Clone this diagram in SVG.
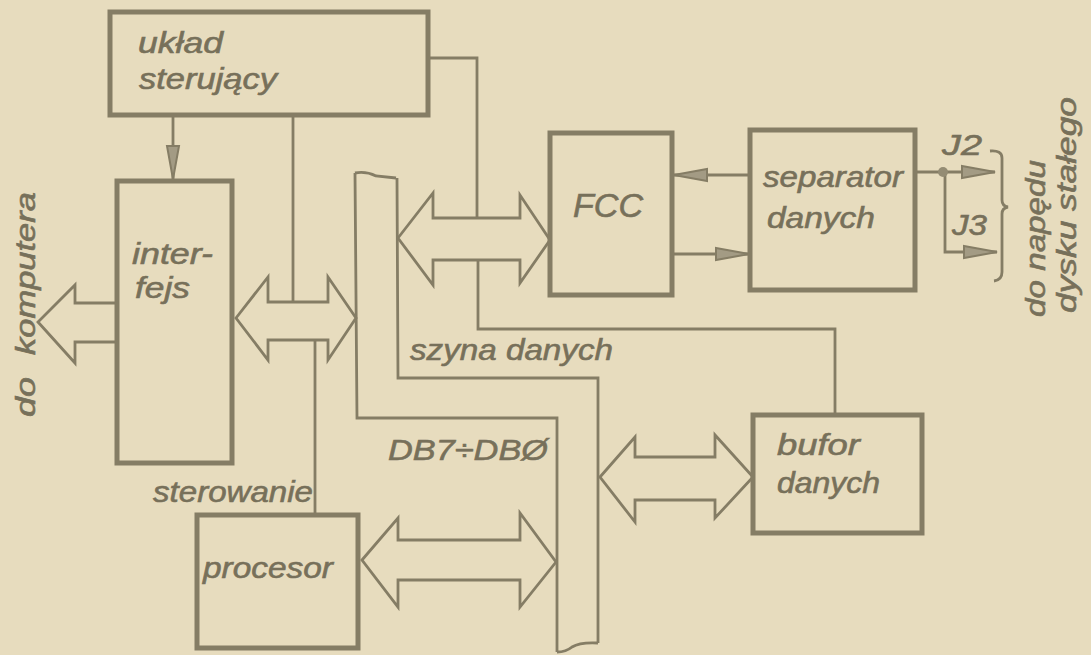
<svg xmlns="http://www.w3.org/2000/svg" width="1091" height="655" viewBox="0 0 1091 655">
<style>
.blk{fill:none;stroke:#857d65;stroke-width:5}
.ln{fill:none;stroke:#857d65;stroke-width:2.8;stroke-linejoin:miter}
.t{font-family:"Liberation Sans",Arial,sans-serif;font-style:italic;fill:#77705a;stroke:#77705a;stroke-width:0.6;font-size:30px}
.r{font-size:27px}
</style>
<defs>
<marker id="ah" markerUnits="userSpaceOnUse" markerWidth="36" markerHeight="16" refX="34" refY="8" orient="auto">
<path d="M1,2 L34,8 L1,14 Z" fill="#a39b84" stroke="#857d65" stroke-width="2"/>
</marker>
</defs>
<rect width="1091" height="655" fill="#e7dcbe"/>

<g id="connectors">
<line class="ln" x1="173" y1="115" x2="173" y2="179" marker-end="url(#ah)"/>
<line class="ln" x1="293" y1="115" x2="293" y2="302"/>
<line class="ln" x1="315" y1="340" x2="315" y2="515"/>
<polyline class="ln" points="428,58 477,58 477,218"/>
<polyline class="ln" points="478,260 478,329 835,329 835,415"/>
<line class="ln" x1="750" y1="175" x2="674" y2="175" marker-end="url(#ah)"/>
<line class="ln" x1="674" y1="254" x2="749" y2="254" marker-end="url(#ah)"/>
<line class="ln" x1="915" y1="172" x2="995" y2="172" marker-end="url(#ah)"/>
<polyline class="ln" points="945,172 945,252 997,252" marker-end="url(#ah)"/>
<circle cx="943" cy="172" r="5" fill="#948c74"/>
<path class="ln" d="M990,151 Q1002,150 1002,158 L1002,200 Q1002,206 1008,207 Q1002,208 1002,214 L1002,272 Q1002,280 994,281"/>
<polyline class="ln" points="117,303 75,303 75,285 38,322 75,363 75,342 117,342"/>
<polygon class="ln" points="236,318 268,277 268,302 328,302 328,277 356,318 328,360 328,340 268,340 268,360"/>
<polygon class="ln" points="398,238 433,193 433,218 520,218 520,195 550,240 520,283 520,260 433,260 433,285"/>
<polygon class="ln" points="362,560 398,518 398,540 520,540 520,513 556,562 520,607 520,580 398,580 398,607"/>
<polygon class="ln" points="600,477 635,437 635,457 715,457 715,435 753,477 715,518 715,500 635,500 635,522"/>
</g>

<g id="bus">
<path class="ln" d="M355,173 Q366,171 376,176 L396,178"/>
<polyline class="ln" points="355,173 357,418 557,418 557,652"/>
<polyline class="ln" points="397,178 398,378 598,378 598,643"/>
<path class="ln" d="M557,652 Q566,652 572,647 Q580,642 598,643"/>
<text class="t" x="410" y="360" textLength="203" lengthAdjust="spacingAndGlyphs">szyna danych</text>
<text class="t" x="388" y="460" textLength="160" lengthAdjust="spacingAndGlyphs">DB7÷DBØ</text>
</g>

<g id="uklad">
<rect class="blk" x="110" y="12" width="318" height="103"/>
<text class="t" x="138" y="53" textLength="85" lengthAdjust="spacingAndGlyphs">układ</text>
<text class="t" x="139" y="89" textLength="138" lengthAdjust="spacingAndGlyphs">sterujący</text>
</g>

<g id="interfejs">
<rect class="blk" x="117" y="181" width="115" height="282"/>
<text class="t" x="132" y="264" textLength="81" lengthAdjust="spacingAndGlyphs">inter-</text>
<text class="t" x="135" y="298" textLength="55" lengthAdjust="spacingAndGlyphs">fejs</text>
</g>

<g id="fcc">
<rect class="blk" x="550" y="133" width="122" height="162"/>
<text class="t" x="573" y="217" style="font-size:33px" textLength="70" lengthAdjust="spacingAndGlyphs">FCC</text>
</g>

<g id="separator">
<rect class="blk" x="750" y="130" width="165" height="160"/>
<text class="t" x="763" y="187" textLength="140" lengthAdjust="spacingAndGlyphs">separator</text>
<text class="t" x="767" y="228" textLength="108" lengthAdjust="spacingAndGlyphs">danych</text>
</g>

<g id="bufor">
<rect class="blk" x="753" y="415" width="169" height="118"/>
<text class="t" x="777" y="455" textLength="83" lengthAdjust="spacingAndGlyphs">bufor</text>
<text class="t" x="777" y="493" textLength="103" lengthAdjust="spacingAndGlyphs">danych</text>
</g>

<g id="procesor">
<rect class="blk" x="197" y="515" width="161" height="133"/>
<text class="t" x="203" y="578" textLength="130" lengthAdjust="spacingAndGlyphs">procesor</text>
</g>

<g id="labels">
<text class="t" x="153" y="502" textLength="160" lengthAdjust="spacingAndGlyphs">sterowanie</text>
<text class="t" x="942" y="155" textLength="40" lengthAdjust="spacingAndGlyphs">J2</text>
<text class="t" x="952" y="235" textLength="35" lengthAdjust="spacingAndGlyphs">J3</text>
<text class="t r" transform="translate(35,417) rotate(-90)" textLength="40" lengthAdjust="spacingAndGlyphs">do</text>
<text class="t r" transform="translate(35,355) rotate(-90)" textLength="163" lengthAdjust="spacingAndGlyphs">komputera</text>
<text class="t r" transform="translate(1045,317) rotate(-90)" textLength="157" lengthAdjust="spacingAndGlyphs">do napędu</text>
<text class="t r" transform="translate(1076,313) rotate(-90)" textLength="216" lengthAdjust="spacingAndGlyphs">dysku stałego</text>
</g>
</svg>
